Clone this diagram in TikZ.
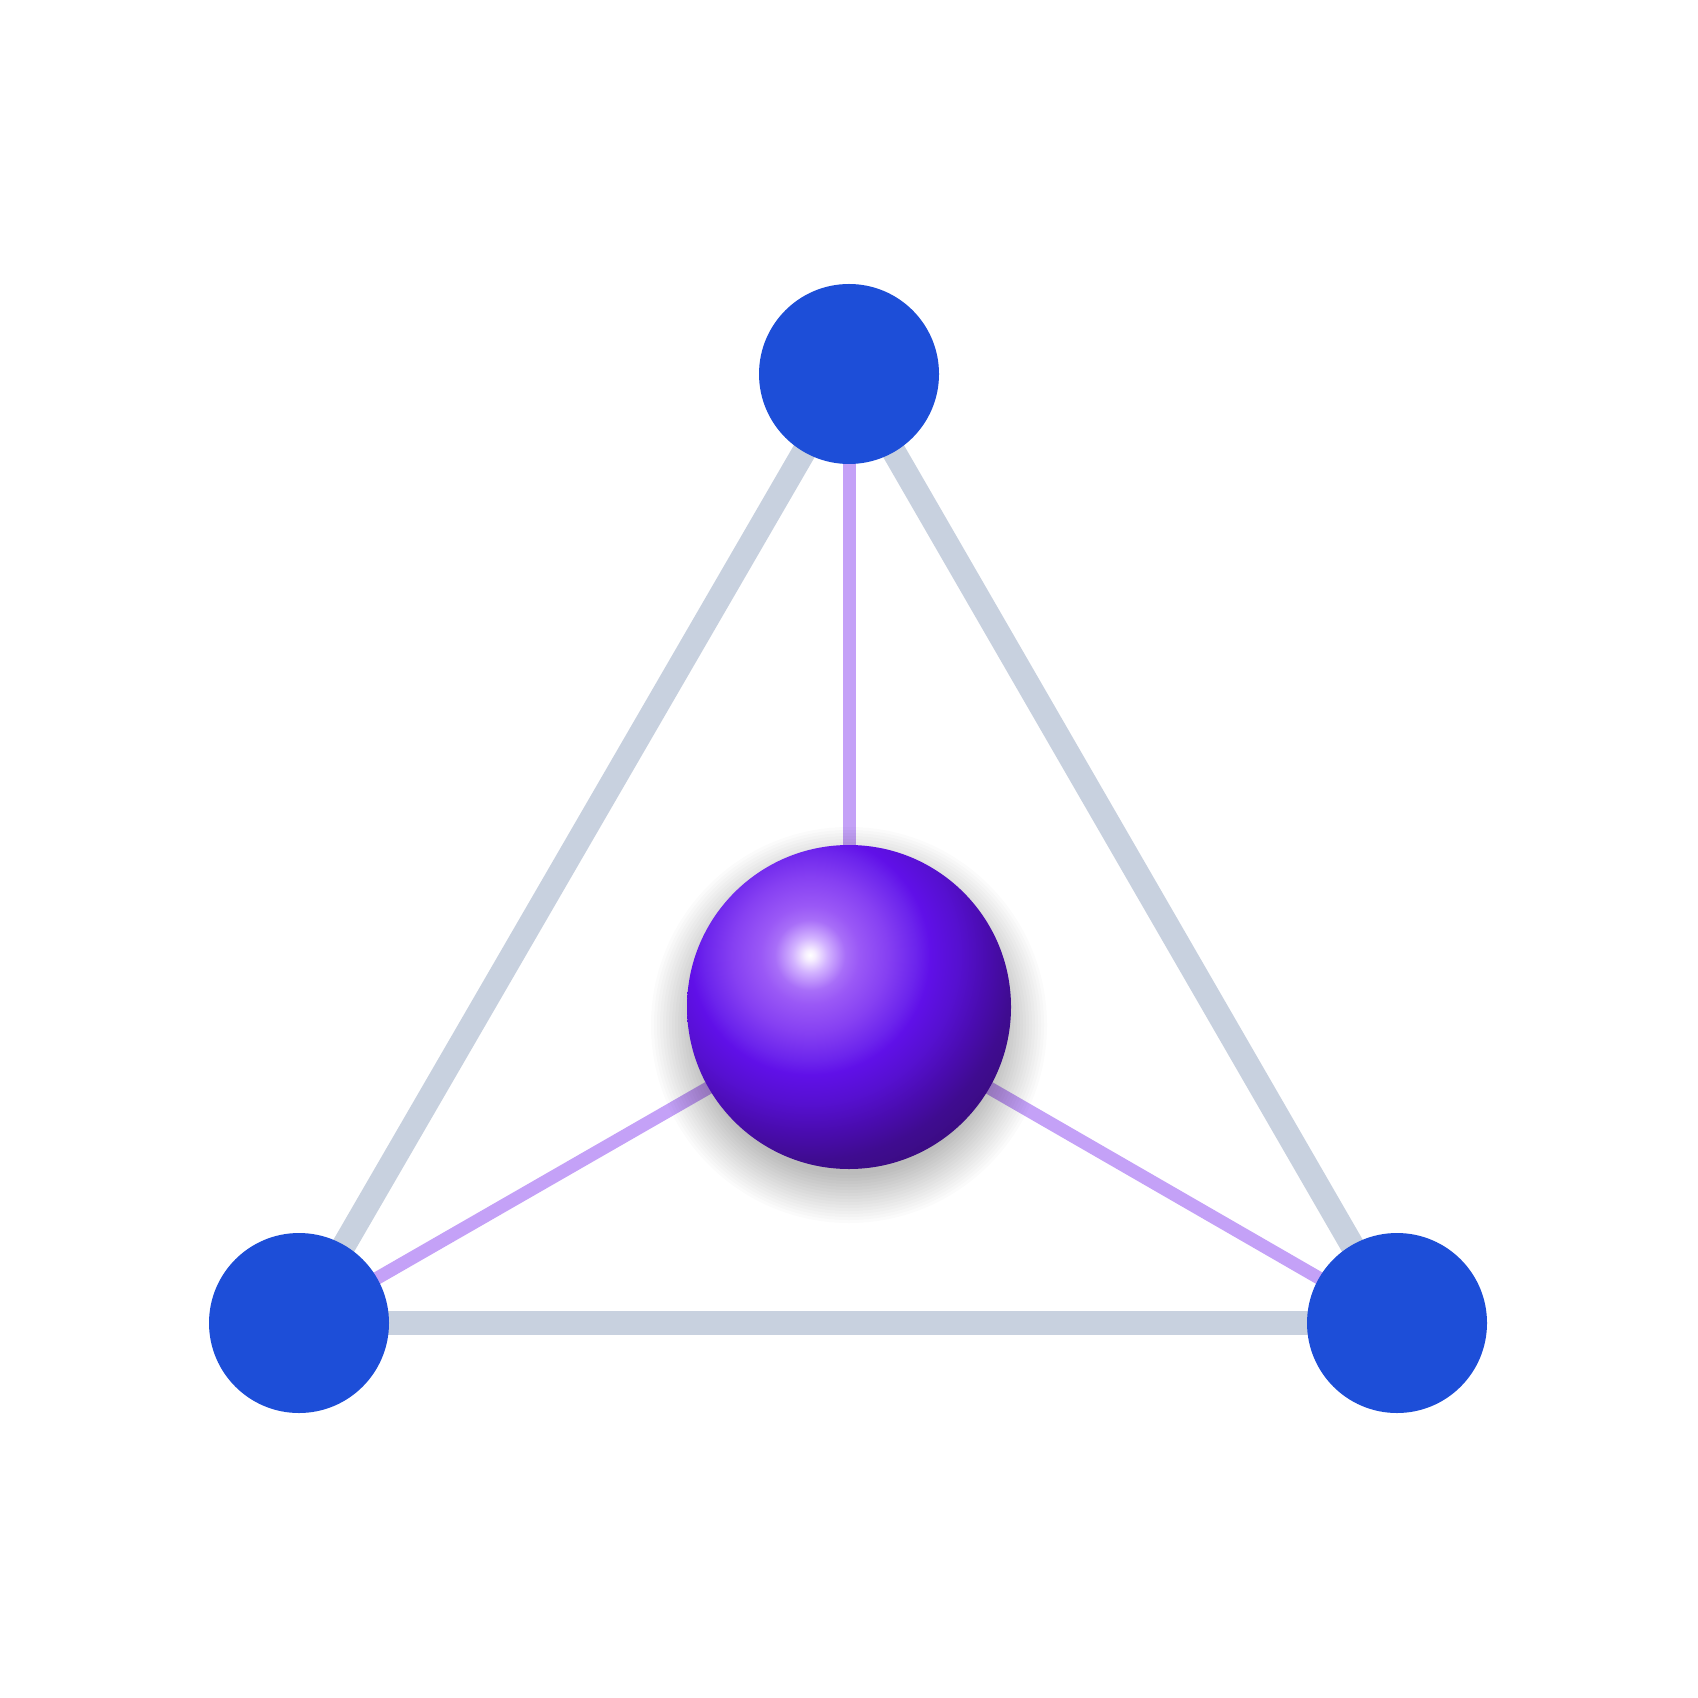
\documentclass[tikz,border=0pt]{standalone}
\definecolor{nodeblue}{HTML}{1D4ED8}
\definecolor{edgegray}{HTML}{C8D1DF}
\definecolor{bondpurple}{HTML}{C4A1F7}
\definecolor{sphA}{HTML}{FFFFFF}
\definecolor{sphAa}{HTML}{F6EEFF}
\definecolor{sphB}{HTML}{D2B2FF}
\definecolor{sphC}{HTML}{A86EF8}
\definecolor{sphCc}{HTML}{9A58F6}
\definecolor{sphD}{HTML}{8640F2}
\definecolor{sphDd}{HTML}{6C24EC}
\definecolor{sphE}{HTML}{6010E8}
\definecolor{sphF}{HTML}{5610D0}
\definecolor{sphG}{HTML}{4A0CB0}
\definecolor{sphH}{HTML}{3F0C90}
\definecolor{sphI}{HTML}{3A0B80}
\pgfdeclareradialshading{spherecore}{\pgfpoint{0bp}{0bp}}{%
 color(0bp)=(sphA); color(1.5bp)=(sphAa); color(5bp)=(sphB); color(10bp)=(sphC);
 color(14bp)=(sphCc); color(22bp)=(sphD); color(30bp)=(sphDd); color(34bp)=(sphE);
 color(42bp)=(sphF); color(50bp)=(sphG); color(58bp)=(sphH); color(66bp)=(sphI);
 color(70bp)=(sphI)}
\tikzset{
  vertex/.style={circle, fill=nodeblue, minimum size=180*0.01cm, inner sep=0pt},
  core/.style={circle, minimum size=324*0.01cm, inner sep=0pt,
    path picture={\node[inner sep=0pt] at (hl) {\pgfuseshading{spherecore}};}},
  edge/.style={draw=edgegray, line width=6.8pt},
  bond/.style={draw=bondpurple, line width=3.7pt},
}
\begin{document}
\begin{tikzpicture}[x=0.01cm,y=-0.01cm]
\useasboundingbox (0,0) rectangle (1698,1698);
\fill[white] (0,0) rectangle (1698,1698);
\coordinate (pt) at (849,374);
\coordinate (pl) at (299,1323);
\coordinate (pr) at (1397,1323);
\coordinate (pc) at (849,1007);
\coordinate (hl) at (810,955);
% edges
\draw[edge] (pt) -- (pl);
\draw[edge] (pt) -- (pr);
\draw[edge] (pl) -- (pr);
% bonds
\draw[bond] (pc) -- (pt);
\draw[bond] (pc) -- (pl);
\draw[bond] (pc) -- (pr);
% soft shadow
\foreach \r in {198,195,...,150}{
  \fill[black, opacity=0.016] ([yshift=-18*0.01cm]pc) circle (\r);
}
% nodes
\node[vertex] (t) at (pt) {};
\node[vertex] (l) at (pl) {};
\node[vertex] (r) at (pr) {};
\node[core] (c) at (pc) {};
\end{tikzpicture}
\end{document}
